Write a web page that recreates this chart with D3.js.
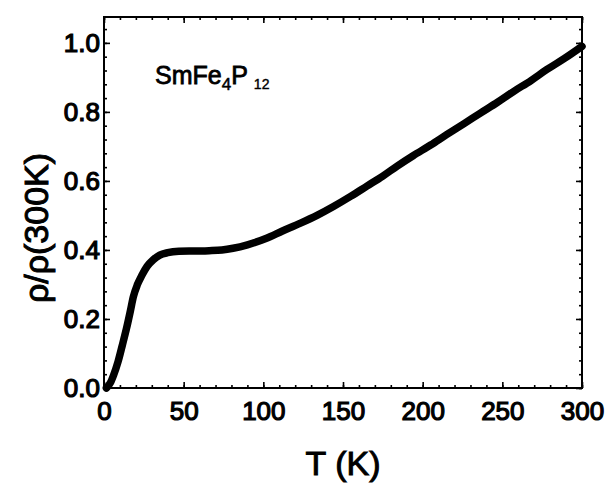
<!DOCTYPE html>
<html>
<head>
<meta charset="utf-8">
<script src="https://cdn.jsdelivr.net/npm/d3@7"></script>
<style>
  body { margin: 0; background: #fff; }
  text { font-family: "Liberation Sans", Arial, sans-serif; fill: #000; }
</style>
</head>
<body>
<div id="chart"></div>
<script>
// SmFe4P12 normalised resistivity
const temps = [1.5, 4, 6, 8.8, 11.5, 14.2, 16.5, 18.4, 21, 23.7, 27, 31, 35, 40, 47, 57, 66, 74,
  81, 90, 102, 112, 123, 134, 144, 155, 165, 175, 184, 194, 205, 215, 226, 236, 247, 257, 268, 278, 289, 300];
const rhoRatio = [0.0, 0.015, 0.037, 0.076, 0.124, 0.174, 0.222, 0.264, 0.3, 0.326, 0.352, 0.372, 0.385, 0.392, 0.396, 0.397, 0.398, 0.4,
  0.405, 0.415, 0.434, 0.455, 0.477, 0.501, 0.526, 0.556, 0.585, 0.614, 0.643, 0.673, 0.704, 0.734, 0.766, 0.796, 0.828, 0.859, 0.891, 0.923, 0.955, 0.99];

const xMajor = [0, 50, 100, 150, 200, 250, 300];
const yMajor = [0.0, 0.2, 0.4, 0.6, 0.8, 1.0];

const W = 610, H = 484;
const m = { top: 17, right: 28, bottom: 96, left: 104 };

const svg = d3.select('#chart').append('svg')
  .attr('width', W)
  .attr('height', H);

const x = d3.scaleLinear().domain([0, 300]).range([m.left, W - m.right]);
const y = d3.scaleLinear().domain([0, 1.075]).range([H - m.bottom, m.top]);

const xMinor = d3.range(0, 301, 10);
const yMinor = d3.range(0, 1.07, 0.04);

// ticks point inwards on all four sides
function addAxis(axisFn, scale, transform, values, size, labels, pad) {
  const g = svg.append('g').attr('transform', transform)
    .call(axisFn(scale).tickValues(values).tickSize(-size).tickPadding(pad)
      .tickFormat(labels ? labels : () => ''));
  g.select('.domain').remove();
  g.selectAll('line').attr('stroke', '#000').attr('stroke-width', 1.6);
  return g;
}

const bx = `translate(0,${y(0)})`, tx = `translate(0,${m.top})`;
const ly = `translate(${m.left},0)`, ry = `translate(${W - m.right},0)`;

addAxis(d3.axisBottom, x, bx, xMinor, 3, null, 0);
addAxis(d3.axisTop, x, tx, xMinor, 3, null, 0);
addAxis(d3.axisLeft, y, ly, yMinor, 3, null, 0);
addAxis(d3.axisRight, y, ry, yMinor, 3, null, 0);

const xAx = addAxis(d3.axisBottom, x, bx, xMajor, 6, d3.format('d'), 14);
addAxis(d3.axisTop, x, tx, xMajor, 6, null, 0);
const yAx = addAxis(d3.axisLeft, y, ly, yMajor, 6, d3.format('.1f'), 4);
addAxis(d3.axisRight, y, ry, yMajor, 6, null, 0);

[xAx, yAx].forEach(g => g.selectAll('text')
  .attr('font-size', 26)
  .attr('font-family', '"Liberation Sans", Arial, sans-serif')
  .attr('fill', '#000')
  .attr('stroke', '#000')
  .attr('stroke-width', 1.2));

// frame
svg.append('rect')
  .attr('x', m.left).attr('y', m.top)
  .attr('width', W - m.left - m.right)
  .attr('height', y(0) - m.top)
  .attr('fill', 'none')
  .attr('stroke', '#000')
  .attr('stroke-width', 2);

// data curve
const line = d3.line()
  .x((d, i) => x(temps[i]))
  .y(d => y(d))
  .curve(d3.curveMonotoneX);

svg.append('path')
  .datum(rhoRatio)
  .attr('d', line)
  .attr('fill', 'none')
  .attr('stroke', '#000')
  .attr('stroke-width', 7.5)
  .attr('stroke-linecap', 'round')
  .attr('stroke-linejoin', 'round');

// axis titles
svg.append('text')
  .attr('x', (m.left + W - m.right) / 2)
  .attr('y', 475)
  .attr('text-anchor', 'middle')
  .attr('font-size', 34)
  .attr('stroke', '#000').attr('stroke-width', 1)
  .text('T (K)');

svg.append('text')
  .attr('transform', `translate(48,228) rotate(-90)`)
  .attr('text-anchor', 'middle')
  .attr('font-size', 34)
  .attr('stroke', '#000').attr('stroke-width', 1)
  .text('ρ/ρ(300K)');

// compound label, subscripts as tspans
const lab = svg.append('text')
  .attr('x', 155).attr('y', 84)
  .attr('font-size', 25)
  .attr('stroke', '#000').attr('stroke-width', 0.8);
lab.append('tspan').text('SmFe');
lab.append('tspan').attr('dy', 6).attr('font-size', 17).attr('stroke-width', 0.5).text('4');
lab.append('tspan').attr('dy', -6).text('P');
lab.append('tspan').attr('dy', 5).attr('dx', 6).attr('font-size', 14).attr('stroke-width', 0.4).text('12');
</script>
</body>
</html>
